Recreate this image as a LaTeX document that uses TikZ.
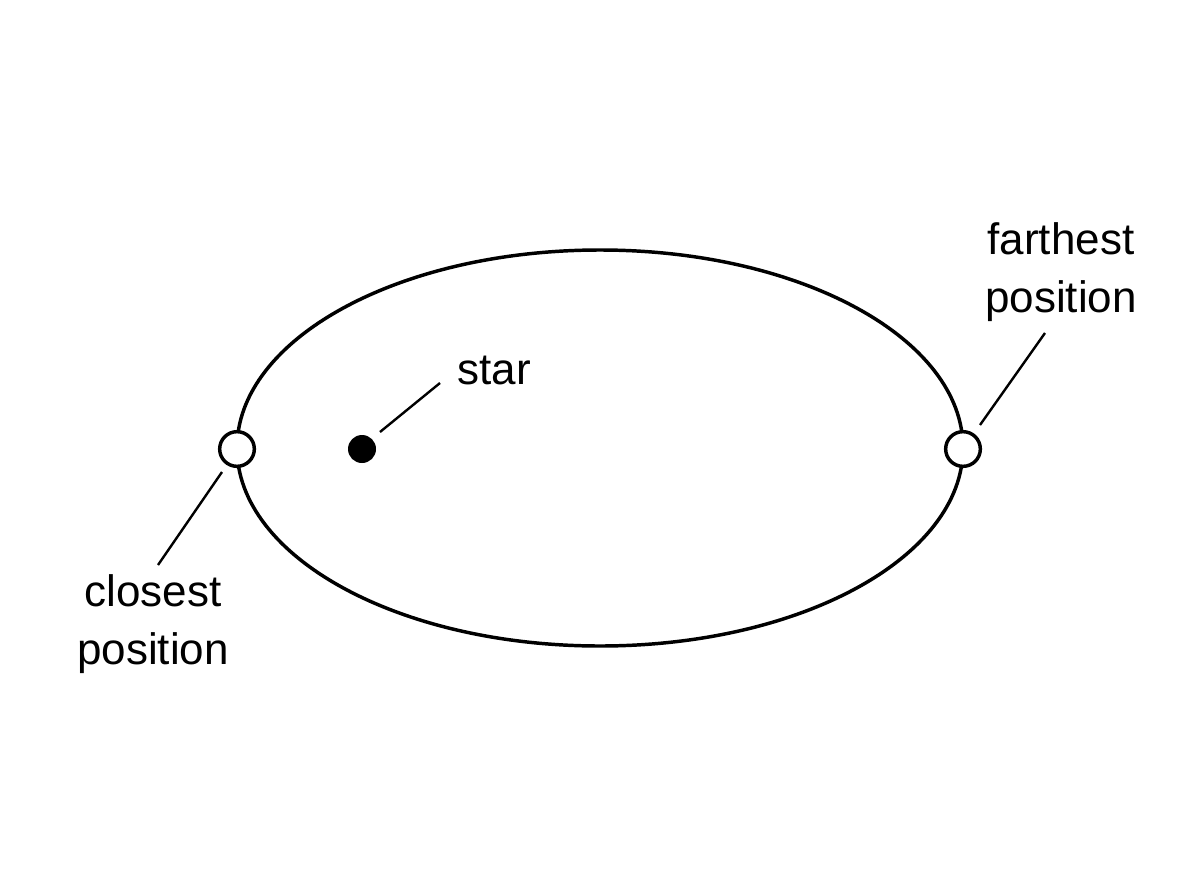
\documentclass[tikz,border=0pt]{standalone}
\usepackage{fontspec}
\setmainfont{Liberation Sans}
\tikzset{every picture/.style={line width=0.75pt}}
\begin{document}
\begin{tikzpicture}[x=0.75pt,y=0.75pt,yscale=-1,xscale=1]
\path[use as bounding box] (0,0) rectangle (1200,896);
\tikzset{lbl/.style={inner sep=0.75pt,align=center,font=\fontsize{33}{43}\selectfont}}

%Shape: Ellipse
\draw [line width=2.6] (600,448) ellipse [x radius=363, y radius=198];
%Shape: Circle (closest)
\node (close) [circle,draw,line width=2.6,fill=white,minimum size=26,inner sep=0] at (237,449) {};
%Shape: Circle (farthest)
\node (far) [circle,draw,line width=2.6,fill=white,minimum size=26,inner sep=0] at (963,449) {};
%Shape: Circle (star)
\node (star) [circle,fill=black,minimum size=21,inner sep=0] at (362,449) {};

% Text Node
\node (starlbl) [lbl] at (494,370) {star};
\node (farlbl) [lbl] at (1061,272) {farthest\\position};
\node (closelbl) [lbl] at (153,624) {closest\\position};

\coordinate (s1) at (380,432); \coordinate (s2) at (440,383);
\coordinate (f1) at (980,425); \coordinate (f2) at (1045,333);
\coordinate (c1) at (222,472); \coordinate (c2) at (158,565);
%Straight Lines
\draw [line width=1.8] (s1) -- (s2);
\draw [line width=1.8] (f1) -- (f2);
\draw [line width=1.8] (c1) -- (c2);
\end{tikzpicture}
\end{document}
